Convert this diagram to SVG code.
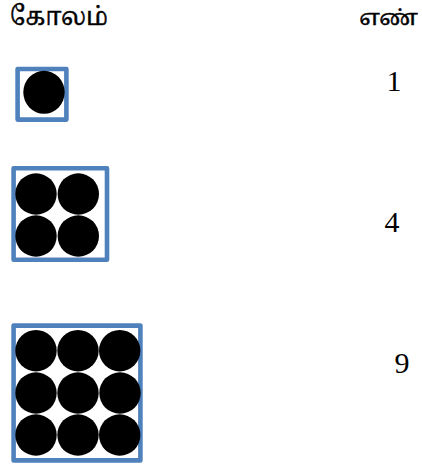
<svg xmlns="http://www.w3.org/2000/svg" width="422" height="466" viewBox="0 0 422 466">
<style>
.frame{fill:none;stroke:#4f81bd;stroke-width:4.6;stroke-linejoin:round}
.dot{fill:#000}
.hdr{font-family:"Liberation Serif","Noto Serif Tamil","Noto Sans Tamil",serif;font-size:26px;fill:#000;stroke:#000;stroke-width:0.5}
.num{font-family:"Liberation Serif",serif;font-size:30px;fill:#000;text-anchor:middle}
</style>
<rect width="422" height="466" fill="#fff"/>
<g id="header">
<text class="hdr" x="10" y="25" textLength="98" lengthAdjust="spacingAndGlyphs">கோலம்</text>
<text class="hdr" x="418" y="25" text-anchor="end" style="font-size:22px">எண்</text>
</g>
<g id="kolam1">
<rect class="frame" x="17.6" y="69" width="48.8" height="50.6"/>
<ellipse class="dot" cx="44" cy="92.3" rx="20.7" ry="21.5"/>
</g>
<g id="num1"><text class="num" x="394" y="91">1</text></g>
<g id="kolam4">
<rect class="frame" x="13.6" y="168.3" width="93.4" height="91.4"/>
<circle class="dot" cx="36" cy="194" r="20.7"/>
<circle class="dot" cx="78.3" cy="194" r="20.7"/>
<circle class="dot" cx="36" cy="236" r="20.7"/>
<circle class="dot" cx="78.3" cy="236" r="20.7"/>
</g>
<g id="num4"><text class="num" x="392" y="232">4</text></g>
<g id="kolam9">
<rect class="frame" x="13.6" y="325.6" width="126.8" height="134.8"/>
<circle class="dot" cx="36" cy="350.7" r="20.7"/>
<circle class="dot" cx="78" cy="350.7" r="20.7"/>
<circle class="dot" cx="119.7" cy="350.7" r="20.7"/>
<circle class="dot" cx="36" cy="393" r="20.7"/>
<circle class="dot" cx="78" cy="393" r="20.7"/>
<circle class="dot" cx="120" cy="393" r="20.7"/>
<circle class="dot" cx="36" cy="435" r="20.7"/>
<circle class="dot" cx="78" cy="435" r="20.7"/>
<circle class="dot" cx="119.7" cy="435" r="20.7"/>
</g>
<g id="num9"><text class="num" x="402" y="373">9</text></g>
</svg>
